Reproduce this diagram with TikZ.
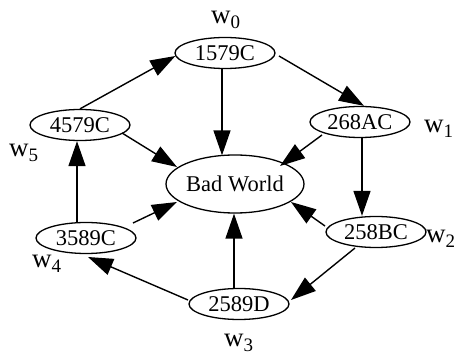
\documentclass[tikz,border=0pt]{standalone}
\usepackage{fontspec}
\setmainfont{Liberation Serif}
\usetikzlibrary{shapes.geometric,arrows.meta,calc}
\tikzset{
  st/.style={ellipse,draw,line width=1.3pt,inner sep=0pt,minimum width=100pt,minimum height=31pt,font=\fontsize{22.5}{26}\selectfont},
  bw/.style={st,minimum width=136pt,minimum height=58pt},
  arr/.style={line width=1.4pt,-{Triangle[length=25pt,width=17pt]}},
  wl/.style={inner sep=0pt,anchor=base west,font=\fontsize{27}{30}\selectfont}
}
\newcommand{\wsub}[1]{w\raisebox{-5pt}{\fontsize{19}{19}\selectfont #1}}
\begin{document}
\begin{tikzpicture}[x=1pt,y=-1pt]
\useasboundingbox (0,0) rectangle (464,358);
\node[st] (n0) at (225,53) {1579C};
\node[st] (n1) at (360,122) {268AC};
\node[st] (n2) at (376,232) {258BC};
\node[st] (n3) at (239,304) {2589D};
\node[st] (n4) at (86,238) {3589C};
\node[st] (n5) at (80,125) {4579C};
\node[bw] (bw) at (235,184) {Bad World};
\node[wl] (l0) at (211,24) {\wsub{0}};
\node[wl] (l1) at (424,133) {\wsub{1}};
\node[wl] (l2) at (426,243) {\wsub{2}};
\node[wl] (l3) at (224,347) {\wsub{3}};
\node[wl] (l4) at (32,268) {\wsub{4}};
\node[wl] (l5) at (9,157) {\wsub{5}};
\draw[arr] (n5.north) -- ($(n0.west)+(1,3)$);
\draw[arr] ($(n0.south)+(-3,0)$) -- ($(bw.north)+(-13,1)$);
\draw[arr] ($(n0.center)+(54,3)$) -- ($(n1.north)+(4,0)$);
\draw[arr] ($(n1.center)+(-38,13)$) -- ($(bw.center)+(45,-18)$);
\draw[arr] ($(n1.south)+(2,0)$) -- ($(n2.north)+(-14,0)$);
\draw[arr] ($(n2.center)+(-51,-6)$) -- ($(bw.center)+(56,18)$);
\draw[arr] ($(n2.center)+(-21,16)$) -- ($(n3.center)+(52,-4)$);
\draw[arr] ($(n3.north)+(-5,0)$) -- ($(bw.south)+(-1,0)$);
\draw[arr] ($(n3.center)+(-51,-4)$) -- ($(n4.center)+(2,19)$);
\draw[arr] ($(n4.center)+(47,-15)$) -- ($(bw.center)+(-58,18)$);
\draw[arr] ($(n4.north)+(-9,0)$) -- ($(n5.south)+(-3,0)$);
\draw[arr] ($(n5.center)+(42,8)$) -- ($(bw.center)+(-58,-17)$);
\end{tikzpicture}
\end{document}
